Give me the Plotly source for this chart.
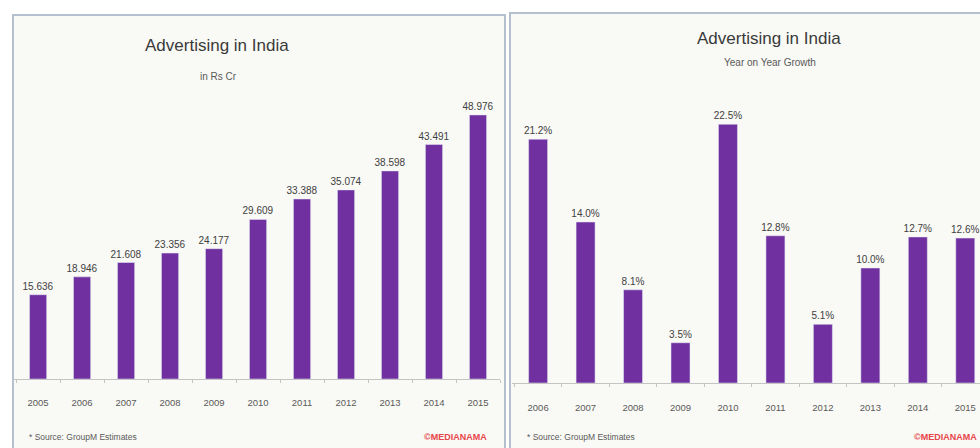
import plotly.graph_objects as go

# ---- data ----
years_spend = ["2005", "2006", "2007", "2008", "2009", "2010", "2011", "2012", "2013", "2014", "2015"]
spend_rs_cr = [15636, 18946, 21608, 23356, 24177, 29609, 33388, 35074, 38598, 43491, 48976]
years_growth = ["2006", "2007", "2008", "2009", "2010", "2011", "2012", "2013", "2014", "2015"]
growth_pct = [21.2, 14.0, 8.1, 3.5, 22.5, 12.8, 5.1, 10.0, 12.7, 12.6]

spend_labels = [f"{v:,}".replace(",", ".") for v in spend_rs_cr]
growth_labels = [f"{v:.1f}%" for v in growth_pct]

W, H = 980, 448
def px(x):
    return x / W
def py(y):
    return 1 - y / H

FONT = "Liberation Sans, Arial, sans-serif"
PURPLE = "#7030A0"
TXT = "#595959"
DARK = "#404040"

fig = go.Figure()
fig.add_trace(go.Bar(
    x=years_spend, y=spend_rs_cr, text=spend_labels, textposition="outside",
    textfont=dict(family=FONT, size=10, color=DARK), cliponaxis=False, constraintext="none",
    marker=dict(color=PURPLE), xaxis="x", yaxis="y", width=0.39, hoverinfo="x+y"))
fig.add_trace(go.Bar(
    x=years_growth, y=growth_pct, text=growth_labels, textposition="outside",
    textfont=dict(family=FONT, size=10, color=DARK), cliponaxis=False, constraintext="none",
    marker=dict(color=PURPLE), xaxis="x2", yaxis="y2", width=0.4, hoverinfo="x+y"))

def xaxis_style(standoff):
    return dict(showgrid=False, zeroline=False, showline=True, linecolor="#c4c4c4",
                linewidth=1, ticks="outside", tickson="boundaries", ticklen=3,
                tickcolor="#c4c4c4", tickfont=dict(family=FONT, size=9.5, color=TXT),
                ticklabelstandoff=standoff, fixedrange=True)

def note(text, x, y, size, color, xanchor="center", bold=False):
    return dict(text=f"<b>{text}</b>" if bold else text, x=px(x), y=py(y),
                xref="paper", yref="paper", xanchor=xanchor, yanchor="middle",
                showarrow=False, font=dict(family=FONT, size=size, color=color))

fig.update_layout(
    width=W, height=H, margin=dict(l=0, r=0, t=0, b=0),
    paper_bgcolor="white", plot_bgcolor="rgba(0,0,0,0)", showlegend=False,
    xaxis=dict(domain=[px(13), px(500)], range=[-0.57, 10.5], type="category", **xaxis_style(15)),
    yaxis=dict(domain=[py(379), py(82.5)], range=[0, 55000], visible=False, fixedrange=True),
    xaxis2=dict(domain=[px(512), 1.0], range=[-0.55, 9.31], type="category", anchor="y2", **xaxis_style(16)),
    yaxis2=dict(domain=[py(383), py(95.5)], range=[0, 25], visible=False, anchor="x2", fixedrange=True),
    shapes=[
        dict(type="rect", xref="paper", yref="paper", x0=px(13), x1=px(505), y0=py(460), y1=py(15),
             fillcolor="#f9f9f5", line=dict(color="#b4c0cf", width=2), layer="below"),
        dict(type="rect", xref="paper", yref="paper", x0=px(510), x1=px(990), y0=py(460), y1=py(13),
             fillcolor="#f9f9f5", line=dict(color="#b4c0cf", width=2), layer="below"),
    ],
    annotations=[
        note("Advertising in India", 217, 46, 17, "#3a3a3a"),
        note("in Rs Cr", 218, 76, 10, TXT),
        note("Advertising in India", 769, 38, 17, "#3a3a3a"),
        note("Year on Year Growth", 770, 62, 10, TXT),
        note("* Source: GroupM Estimates", 27, 437, 8.5, TXT, xanchor="left"),
        note("* Source: GroupM Estimates", 525, 437, 8.5, TXT, xanchor="left"),
        note("©MEDIANAMA", 489, 437, 9, "#e8454a", xanchor="right", bold=True),
        note("©MEDIANAMA", 979, 437, 9, "#e8454a", xanchor="right", bold=True),
    ],
)

fig.write_html("out.html")
